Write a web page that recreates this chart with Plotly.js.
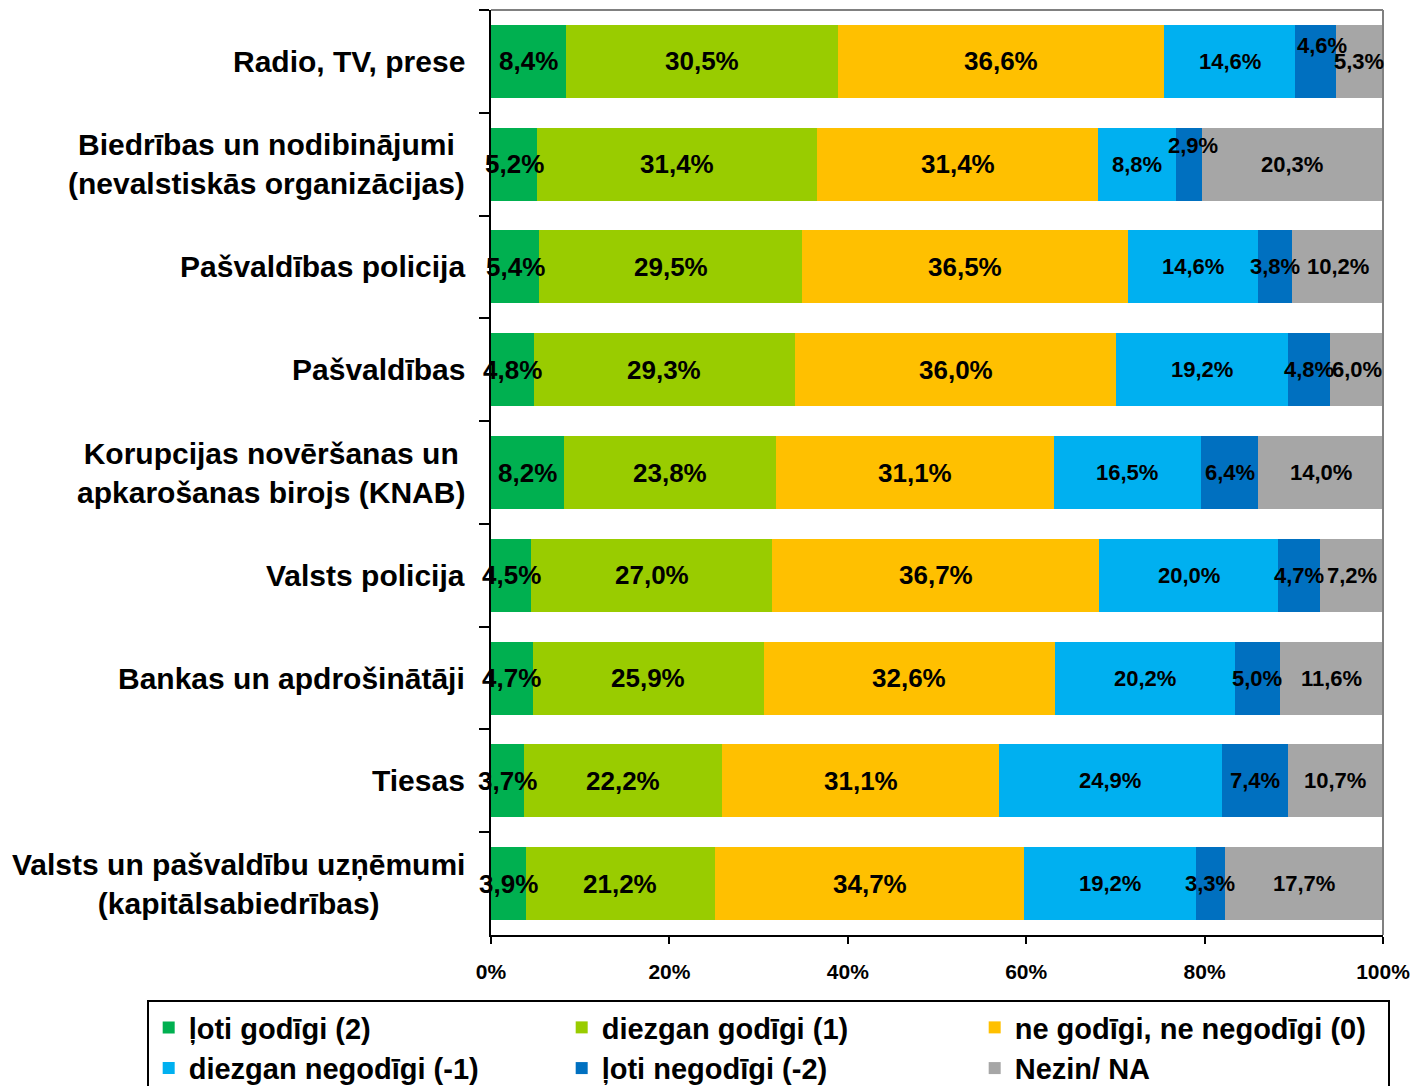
<!DOCTYPE html>
<html><head><meta charset="utf-8">
<script src="https://cdn.plot.ly/plotly-3.0.1.min.js"></script>
<style>html,body{margin:0;padding:0;background:#fff}#chart{width:1414px;height:1086px}</style>
</head><body><div id="chart"></div>
<script>
const categories = [
  "Radio, TV, prese",
  "Biedrības un nodibinājumi<br>(nevalstiskās organizācijas)",
  "Pašvaldības policija",
  "Pašvaldības",
  "Korupcijas novēršanas un<br>apkarošanas birojs (KNAB)",
  "Valsts policija",
  "Bankas un apdrošinātāji",
  "Tiesas",
  "Valsts un pašvaldību uzņēmumi<br>(kapitālsabiedrības)"
];
const seriesNames = ["ļoti godīgi (2)", "diezgan godīgi (1)", "ne godīgi, ne negodīgi (0)",
                     "diezgan negodīgi (-1)", "ļoti negodīgi (-2)", "Nezin/ NA"];
const lotiGodigi      = [8.4, 5.2, 5.4, 4.8, 8.2, 4.5, 4.7, 3.7, 3.9];
const diezganGodigi   = [30.5, 31.4, 29.5, 29.3, 23.8, 27.0, 25.9, 22.2, 21.2];
const neGodigi        = [36.6, 31.4, 36.5, 36.0, 31.1, 36.7, 32.6, 31.1, 34.7];
const diezganNegodigi = [14.6, 8.8, 14.6, 19.2, 16.5, 20.0, 20.2, 24.9, 19.2];
const lotiNegodigi    = [4.6, 2.9, 3.8, 4.8, 6.4, 4.7, 5.0, 7.4, 3.3];
const nezin           = [5.3, 20.3, 10.2, 6.0, 14.0, 7.2, 11.6, 10.7, 17.7];
const xTickVals = [0, 20, 40, 60, 80, 100];
const xTickText = ["0%", "20%", "40%", "60%", "80%", "100%"];

const seriesValues = [lotiGodigi, diezganGodigi, neGodigi, diezganNegodigi, lotiNegodigi, nezin];
const colors = ["#00B050", "#99CC00", "#FFC000", "#00B0F0", "#0070C0", "#A6A6A6"];
const labelSizes = [26, 26, 26, 22, 22, 22];
const labelNudge = {"0-4": {dx: 7, dy: 16}, "1-4": {dx: 4, dy: 19}};
const FONT = "Liberation Sans, Arial, sans-serif";

const traces = seriesValues.map((vals, j) => ({
  type: "bar", orientation: "h", name: seriesNames[j],
  x: vals, y: categories,
  marker: {color: colors[j], line: {width: 0}},
  hoverinfo: "skip"
}));

const fmt = v => v.toFixed(1).replace(".", ",") + "%";
const annotations = [];
categories.forEach((cat, i) => {
  let cum = 0;
  seriesValues.forEach((vals, j) => {
    const v = vals[i];
    const n = labelNudge[i + "-" + j] || {dx: 0, dy: 0};
    annotations.push({
      x: cum + v / 2, y: cat, xref: "x", yref: "y",
      text: fmt(v), showarrow: false, xshift: n.dx, yshift: n.dy,
      font: {family: FONT, size: labelSizes[j], color: "#000", weight: "bold"}
    });
    cum += v;
  });
  annotations.push({
    x: 0, xref: "paper", y: cat, yref: "y", xanchor: "right", xshift: -24,
    align: "center", text: cat, showarrow: false,
    font: {family: FONT, size: 30, color: "#000", weight: "bold"}
  });
});

const layout = {
  width: 1414, height: 1086,
  margin: {l: 491, r: 31, t: 10, b: 151, autoexpand: false},
  paper_bgcolor: "#fff", plot_bgcolor: "#fff",
  barmode: "stack", bargap: 0.29,
  font: {family: FONT, color: "#000"},
  xaxis: {
    range: [0, 100], tickmode: "array", tickvals: xTickVals, ticktext: xTickText,
    showline: true, linecolor: "#000", linewidth: 2,
    ticks: "outside", ticklen: 7, tickwidth: 2, tickcolor: "#000",
    showgrid: false, zeroline: false, fixedrange: true,
    ticklabelstandoff: 10,
    tickfont: {family: FONT, size: 21, color: "#000", weight: "bold"}
  },
  yaxis: {
    type: "category", autorange: "reversed",
    showline: true, linecolor: "#000", linewidth: 2,
    ticks: "outside", tickson: "boundaries", ticklen: 10, tickwidth: 2, tickcolor: "#000",
    showticklabels: false, showgrid: false, zeroline: false, fixedrange: true
  },
  shapes: [
    {type: "line", xref: "paper", yref: "paper", x0: 0, x1: 1, y0: 1, y1: 1, line: {color: "#808080", width: 2}},
    {type: "line", xref: "paper", yref: "paper", x0: 1, x1: 1, y0: 0, y1: 1, line: {color: "#808080", width: 2}}
  ],
  showlegend: true,
  legend: {
    orientation: "h", traceorder: "normal",
    x: -0.386, xanchor: "left", y: -0.0703, yanchor: "top",
    bgcolor: "#fff", bordercolor: "#000", borderwidth: 2,
    entrywidth: 368, tracegroupgap: 0,
    font: {family: FONT, size: 29, color: "#000", weight: "bold"}
  },
  annotations: annotations
};

Plotly.newPlot("chart", traces, layout, {displayModeBar: false, staticPlot: true});
</script>
</body></html>
